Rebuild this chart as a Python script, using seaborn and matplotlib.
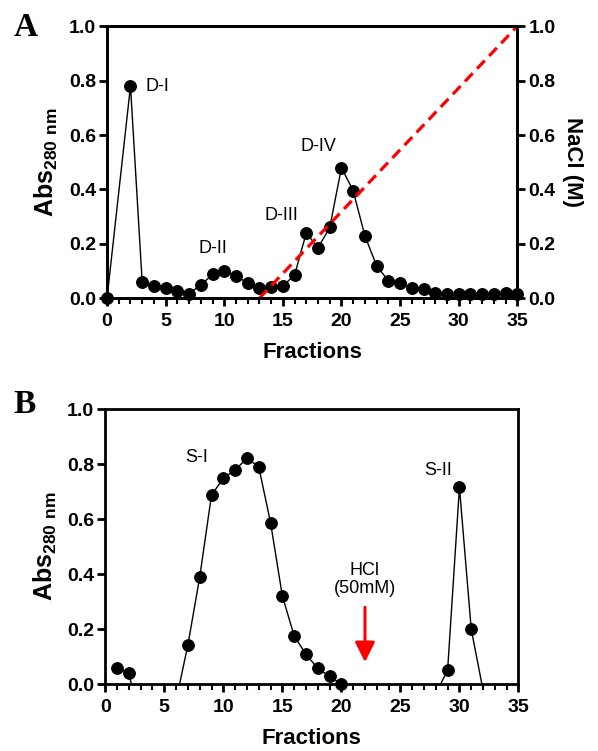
import matplotlib
matplotlib.use("Agg")
import matplotlib.pyplot as plt
import matplotlib.ticker as ticker
import seaborn as sns
import pandas as pd

# Panel A: DEAE elution profile
frac_a = list(range(0, 36))
frac_a = [f for f in frac_a if f != 1]
abs_a = [0.0, 0.78, 0.058, 0.045, 0.039, 0.027, 0.017, 0.048, 0.087, 0.10, 0.081,
         0.056, 0.039, 0.042, 0.045, 0.085, 0.24, 0.185, 0.26, 0.48, 0.395, 0.229,
         0.119, 0.064, 0.054, 0.038, 0.034, 0.018, 0.017, 0.017, 0.017, 0.017,
         0.017, 0.02, 0.017]
nacl_frac = [13, 35]
nacl_conc = [0.0, 1.0]

# Panel B: second column profile (values below zero fall outside the axis)
frac_b = list(range(1, 36))
abs_b = [0.06, 0.04, -0.15, -0.12, -0.09, -0.06, 0.143, 0.389, 0.688, 0.749, 0.779,
         0.822, 0.791, 0.588, 0.321, 0.176, 0.108, 0.058, 0.028, 0.0, -0.03, -0.04,
         -0.04, -0.04, -0.04, -0.04, -0.04, -0.035, 0.052, 0.716, 0.20, -0.022,
         -0.04, -0.04, -0.04]

peaks_a = ["D-I", "D-II", "D-III", "D-IV"]
peaks_a_x = [3.3, 9.0, 14.85, 18.0]
peaks_a_y = [0.777, 0.183, 0.305, 0.556]
peaks_b = ["S-I", "S-II"]
peaks_b_x = [7.75, 28.2]
peaks_b_y = [0.823, 0.779]

sns.set_theme(style="ticks")
plt.rcParams['font.family'] = ['Liberation Sans', 'DejaVu Sans']
plt.rcParams['mathtext.fontset'] = 'custom'
plt.rcParams['mathtext.bf'] = 'Liberation Sans:bold'
plt.rcParams['mathtext.rm'] = 'Liberation Sans:bold'
plt.rcParams['text.color'] = 'black'
plt.rcParams['axes.labelcolor'] = 'black'
plt.rcParams['xtick.color'] = 'black'
plt.rcParams['ytick.color'] = 'black'

fig = plt.figure(figsize=(5.98, 7.51), dpi=100)
axA = fig.add_axes([0.179, 0.603, 0.686, 0.362])
axB = fig.add_axes([0.176, 0.089, 0.691, 0.366])

ylab = r'$\mathbf{Abs_{280\ nm}}$'
tick_size = 14


def style_axis(ax):
    ax.set_xlim(0, 35)
    ax.set_ylim(0, 1.0)
    ax.xaxis.set_major_locator(ticker.MultipleLocator(5))
    ax.xaxis.set_minor_locator(ticker.MultipleLocator(1))
    ax.yaxis.set_major_locator(ticker.MultipleLocator(0.2))
    ax.yaxis.set_major_formatter(ticker.FormatStrFormatter('%.1f'))
    ax.tick_params(axis='both', which='major', direction='out', length=6, width=2,
                   labelsize=tick_size, pad=2, colors='black')
    ax.tick_params(axis='x', which='major', pad=5)
    ax.tick_params(axis='x', which='minor', direction='out', length=4, width=1.5)
    for lab in ax.get_xticklabels() + ax.get_yticklabels():
        lab.set_fontweight('bold')
    for sp in ax.spines.values():
        sp.set_visible(True)
        sp.set_linewidth(2)
        sp.set_color('black')
    ax.set_xlabel('Fractions', fontsize=16, fontweight='bold', labelpad=8)
    ax.set_ylabel(ylab, fontsize=18, labelpad=6)


# ---- Panel A
df_a = pd.DataFrame({"Fraction": frac_a, "Abs": abs_a})
sns.lineplot(data=df_a, x="Fraction", y="Abs", ax=axA, color='black', linewidth=1,
             marker='o', markersize=8.5, markeredgecolor='black', clip_on=False)
style_axis(axA)

axA2 = axA.twinx()
sns.lineplot(x=nacl_frac, y=nacl_conc, ax=axA2, color='red', linewidth=2.3,
             linestyle=(0, (3.5, 2)))
axA2.set_ylim(0, 1.0)
axA2.yaxis.set_major_locator(ticker.MultipleLocator(0.2))
axA2.yaxis.set_major_formatter(ticker.FormatStrFormatter('%.1f'))
axA2.tick_params(axis='y', direction='out', length=6, width=2, labelsize=tick_size,
                 pad=2, colors='black')
for lab in axA2.get_yticklabels():
    lab.set_fontweight('bold')
for sp in axA2.spines.values():
    sp.set_linewidth(2)
    sp.set_color('black')
axA2.set_ylabel('NaCl (M)', fontsize=16, fontweight='bold', rotation=270, labelpad=20)

for t, x, y in zip(peaks_a, peaks_a_x, peaks_a_y):
    ha = 'left' if t == "D-I" else 'center'
    axA.text(x, y, t, fontsize=13, ha=ha, va='center')

# ---- Panel B
df_b = pd.DataFrame({"Fraction": frac_b, "Abs": abs_b})
sns.lineplot(data=df_b, x="Fraction", y="Abs", ax=axB, color='black', linewidth=1)
df_b_pos = df_b[df_b["Abs"] >= 0]
sns.scatterplot(data=df_b_pos, x="Fraction", y="Abs", ax=axB, color='black', s=72,
                edgecolor='black', clip_on=False, zorder=3)
style_axis(axB)

for t, x, y in zip(peaks_b, peaks_b_x, peaks_b_y):
    axB.text(x, y, t, fontsize=13, ha='center', va='center')

axB.text(22, 0.38, 'HCl\n(50mM)', fontsize=13, ha='center', va='center',
         linespacing=1.05)
axB.annotate('', xy=(22, 0.07), xytext=(22, 0.29),
             arrowprops=dict(arrowstyle='-|>,head_width=0.5,head_length=1.0',
                             color='red', lw=2.2))

fig.text(0.022, 0.963, 'A', fontsize=24, fontweight='bold', family='Liberation Serif',
         va='center')
fig.text(0.022, 0.462, 'B', fontsize=24, fontweight='bold', family='Liberation Serif',
         va='center')

fig.savefig('out.png', dpi=100)
